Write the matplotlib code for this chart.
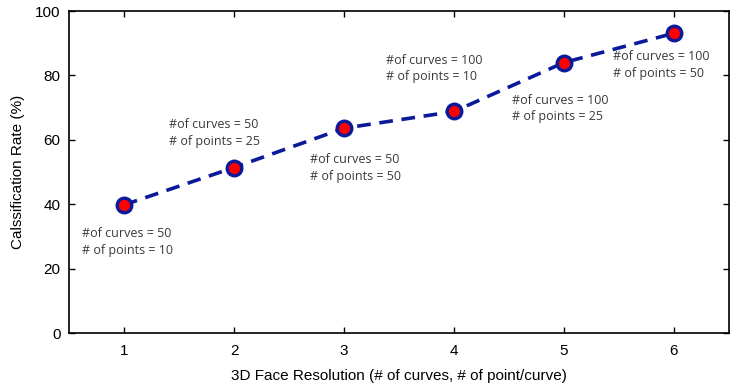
import matplotlib
matplotlib.use('Agg')
import matplotlib.pyplot as plt

# Data
resolution = [1, 2, 3, 4, 5, 6]
rate = [39.8, 51.4, 63.6, 68.8, 84.0, 93.1]
n_curves = [50, 50, 50, 100, 100, 100]
n_points = [10, 25, 50, 10, 25, 50]
# label anchor (left x, centre y of the two-line block) in data units
label_x = [0.62, 1.41, 2.69, 3.38, 4.53, 5.45]
label_y = [28.3, 62.1, 51.2, 82.1, 69.7, 83.2]

plt.rcParams['font.family'] = ['Liberation Sans', 'DejaVu Sans']

fig = plt.figure(figsize=(7.39, 3.87), dpi=100)
ax = fig.add_axes([0.0934, 0.1395, 0.893, 0.832])

ax.plot(resolution, rate, linestyle='--', color='#0a1a9a', linewidth=2.6,
        dashes=(3.8, 2.4), marker='o', markersize=10.5,
        markerfacecolor='#ff0000', markeredgecolor='#0a1a9a', markeredgewidth=2.4)

for x, y, c, p in zip(label_x, label_y, n_curves, n_points):
    ax.text(x, y, f'#of curves = {c}\n# of points = {p}', fontsize=9,
            family=['Open Sans', 'DejaVu Sans'], color='#3a3a3a',
            va='center', ha='left', linespacing=1.35)

ax.set_xlim(0.5, 6.5)
ax.set_ylim(0, 100)
ax.set_xticks(resolution)
ax.set_yticks([0, 20, 40, 60, 80, 100])
ax.tick_params(direction='in', top=True, right=True, labelsize=11, length=4, width=1)
ax.tick_params(axis='x', pad=8)
ax.tick_params(axis='y', pad=6)
for s in ax.spines.values():
    s.set_linewidth(1.2)

ax.set_xlabel('3D Face Resolution (# of curves, # of point/curve)', fontsize=11, labelpad=8)
ax.set_ylabel('Calssification Rate (%)', fontsize=11, labelpad=7)

fig.savefig('out.png', dpi=100)
